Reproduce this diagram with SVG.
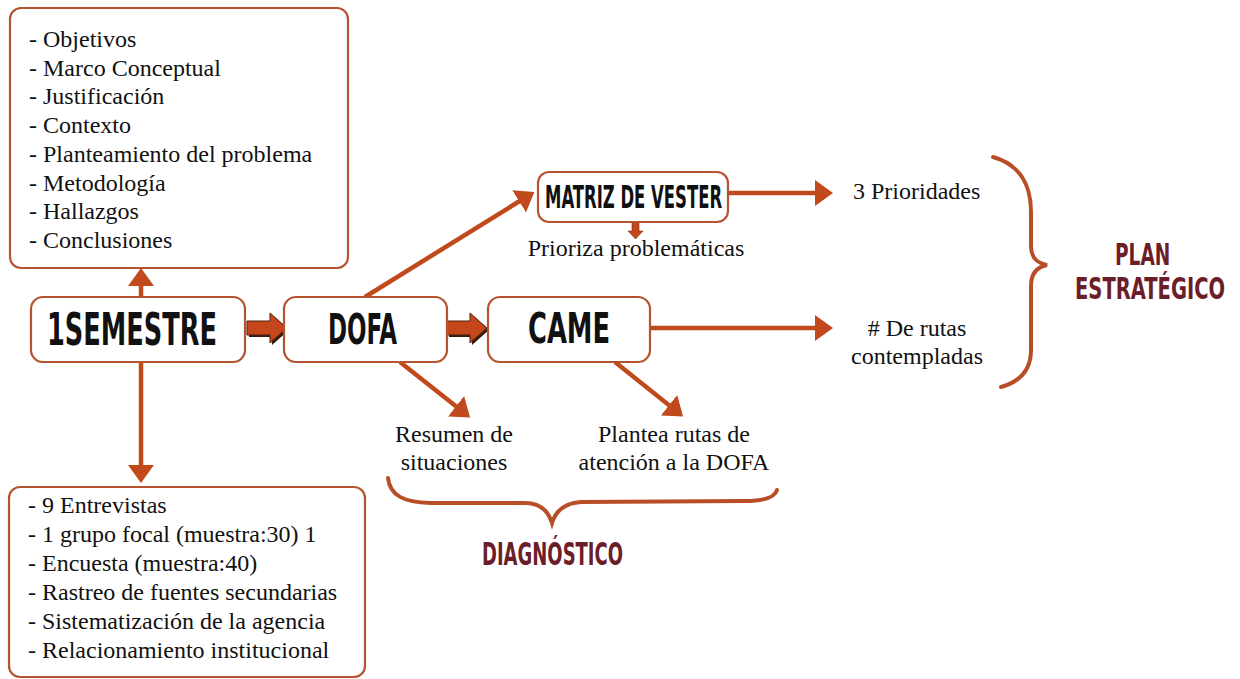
<svg xmlns="http://www.w3.org/2000/svg" width="1240" height="679" viewBox="0 0 1240 679">
<style>
.box{fill:#fff;stroke:#b4532e;stroke-width:2.2}
.list{font-family:"Liberation Serif","Times New Roman",Tinos,"DejaVu Serif",serif;font-size:24px;fill:#111}
.lbl{font-family:"Liberation Serif","Times New Roman",Tinos,"DejaVu Serif",serif;font-size:24px;fill:#111;text-anchor:middle}
.head{font-family:"DejaVu Sans Condensed","DejaVu Sans",sans-serif;font-weight:bold;fill:#111}
.mar{font-family:"DejaVu Sans Condensed","DejaVu Sans",sans-serif;font-weight:bold;fill:#6b1d28}
.con{stroke:#c14a1c;stroke-width:4.5;fill:none}
.brace{stroke:#b84e27;stroke-width:4;fill:none;stroke-linecap:round}
.blk{fill:#c4461a;stroke:#4a2010;stroke-width:1}
</style>
<defs>
<marker id="ah" viewBox="0 0 18 26" refX="14" refY="13" markerWidth="18" markerHeight="26" markerUnits="userSpaceOnUse" orient="auto">
<path d="M0,0 L18,13 L0,26 z" fill="#c14a1c"/>
</marker>
</defs>

<g id="connectors">
<line class="con" x1="141" y1="297" x2="141" y2="272" marker-end="url(#ah)"/>
<line class="con" x1="141" y1="362" x2="141" y2="479" marker-end="url(#ah)"/>
<line class="con" x1="365" y1="297" x2="531" y2="194" marker-end="url(#ah)"/>
<line class="con" x1="400" y1="362" x2="467" y2="415" marker-end="url(#ah)"/>
<line class="con" x1="615" y1="362" x2="680" y2="414" marker-end="url(#ah)"/>
<line class="con" x1="729" y1="193" x2="829" y2="193" marker-end="url(#ah)"/>
<line class="con" x1="650" y1="328" x2="829" y2="328" marker-end="url(#ah)"/>
<polygon points="249,323 272,323 272,315 289,330 272,345 272,337 249,337" fill="#3a1a0c"/>
<polygon class="blk" points="247,321 270,321 270,313 287,328 270,343 270,335 247,335"/>
<polygon points="449,323 472,323 472,315 489,330 472,345 472,337 449,337" fill="#3a1a0c"/>
<polygon class="blk" points="447,321 470,321 470,313 487,328 470,343 470,335 447,335"/>
<polygon points="632,222 639,222 639,231 643,231 635.5,239 628,231 632,231" fill="#c4461a" stroke="#7a3015" stroke-width="0.6"/>
</g>

<g id="box-top">
<rect class="box" x="10" y="8" width="338" height="260" rx="11"/>
<text class="list" x="29" y="47">- Objetivos</text>
<text class="list" x="29" y="75.7">- Marco Conceptual</text>
<text class="list" x="29" y="104.4">- Justificación</text>
<text class="list" x="29" y="133.1">- Contexto</text>
<text class="list" x="29" y="161.8">- Planteamiento del problema</text>
<text class="list" x="29" y="190.5">- Metodología</text>
<text class="list" x="29" y="219.2">- Hallazgos</text>
<text class="list" x="29" y="247.9">- Conclusiones</text>
</g>

<g id="box-bottom">
<rect class="box" x="9" y="487" width="356" height="190" rx="11"/>
<text class="list" x="28" y="513">- 9 Entrevistas</text>
<text class="list" x="28" y="542">- 1 grupo focal (muestra:30) 1</text>
<text class="list" x="28" y="571">- Encuesta (muestra:40)</text>
<text class="list" x="28" y="600">- Rastreo de fuentes secundarias</text>
<text class="list" x="28" y="629">- Sistematización de la agencia</text>
<text class="list" x="28" y="658">- Relacionamiento institucional</text>
</g>

<g id="node-semestre">
<rect class="box" x="31" y="297" width="214" height="65" rx="12"/>
<text class="head" transform="translate(47,345) scale(0.72,1)" x="0" y="0" font-size="45" textLength="236" lengthAdjust="spacingAndGlyphs">1SEMESTRE</text>
</g>

<g id="node-dofa">
<rect class="box" x="284" y="297" width="163" height="65" rx="12"/>
<text class="head" transform="translate(328,344) scale(0.72,1)" x="0" y="0" font-size="43" textLength="96" lengthAdjust="spacingAndGlyphs">DOFA</text>
</g>

<g id="node-came">
<rect class="box" x="488" y="297" width="162" height="65" rx="12"/>
<text class="head" transform="translate(528,343) scale(0.72,1)" x="0" y="0" font-size="43" textLength="114" lengthAdjust="spacingAndGlyphs">CAME</text>
</g>

<g id="node-vester">
<rect class="box" x="538" y="172" width="190" height="50" rx="11"/>
<text class="head" transform="translate(545,208) scale(0.72,1)" x="0" y="0" font-size="31.5" textLength="246" lengthAdjust="spacingAndGlyphs">MATRIZ DE VESTER</text>
</g>

<g id="label-prioriza">
<text class="lbl" x="636" y="256">Prioriza problemáticas</text>
</g>

<g id="label-prioridades">
<text class="list" x="853" y="199">3 Prioridades</text>
</g>

<g id="label-rutas">
<text class="lbl" x="917" y="336"># De rutas</text>
<text class="lbl" x="917" y="364">contempladas</text>
</g>

<g id="label-resumen">
<text class="lbl" x="454" y="442">Resumen de</text>
<text class="lbl" x="454" y="470">situaciones</text>
</g>

<g id="label-plantea">
<text class="lbl" x="674" y="442">Plantea rutas de</text>
<text class="lbl" x="674" y="470">atención a la DOFA</text>
</g>

<g id="brace-plan">
<path class="brace" d="M993,157 C1018,164 1031,183 1031,212 L1031,246 C1031,258 1037,263 1047,265 C1037,267 1031,273 1031,286 L1031,350 C1031,371 1019,382 1001,387"/>
<text class="mar" transform="translate(1115,265) scale(0.65,1)" x="0" y="0" font-size="30" textLength="85" lengthAdjust="spacingAndGlyphs">PLAN</text>
<text class="mar" transform="translate(1075,299) scale(0.65,1)" x="0" y="0" font-size="30" textLength="231" lengthAdjust="spacingAndGlyphs">ESTRATÉGICO</text>
</g>

<g id="brace-diag">
<path class="brace" d="M388,478 C390,496 404,502 430,503 L525,503 C540,503 548,510 552,523 C556,510 565,503 581,502 L745,501 C765,501 775,497 777,490"/>
<text class="mar" transform="translate(482,565) scale(0.65,1)" x="0" y="0" font-size="31.5" textLength="217" lengthAdjust="spacingAndGlyphs">DIAGNÓSTICO</text>
</g>
</svg>
